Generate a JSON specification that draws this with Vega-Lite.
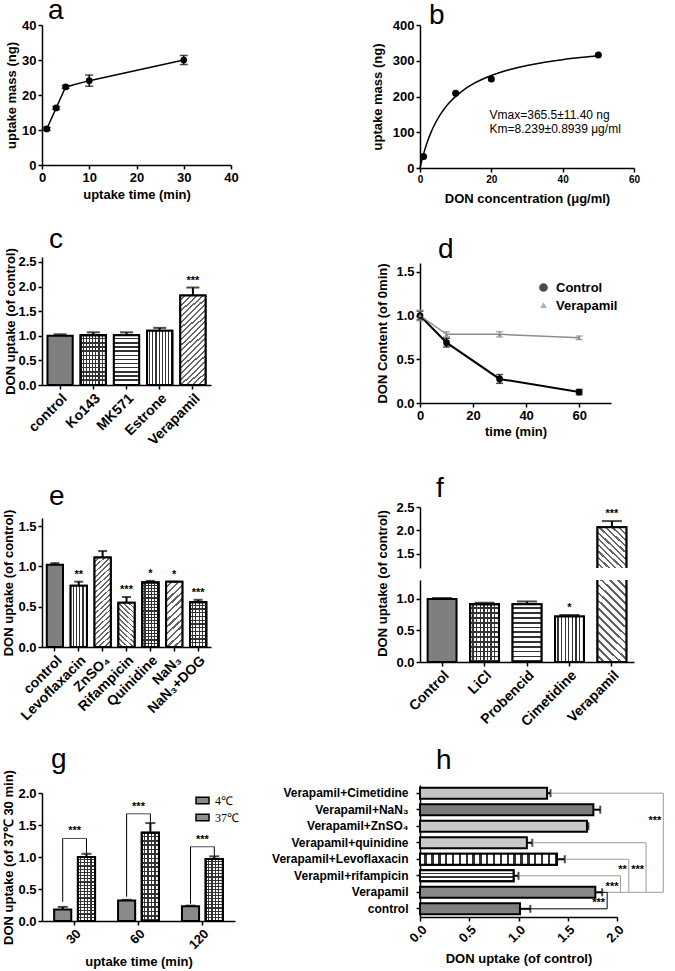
{
  "$schema": "https://vega.github.io/schema/vega-lite/v6.json",
  "padding": {"left": 2, "top": -3, "right": 0, "bottom": 0},
  "config": {
    "font": "Liberation Sans",
    "view": {"stroke": null},
    "mark": {"color": "black"},
    "rule": {"color": "black"},
    "tick": {"color": "black"},
    "text": {"color": "black"},
    "axis": {"grid": false, "domainColor": "black", "domainWidth": 1.5, "tickColor": "black", "tickWidth": 1.5, "tickSize": 4, "labelFont": "Liberation Sans", "labelFontSize": 13, "labelFontWeight": "bold", "labelColor": "black", "labelPadding": 2, "labelOverlap": false, "labelFlush": false, "labelBound": false, "titleFont": "Liberation Sans", "titleFontSize": 13, "titleFontWeight": "bold", "titleColor": "black"},
    "title": {"fontSize": 28, "fontWeight": "normal", "anchor": "start", "frame": "group", "font": "Liberation Sans", "baseline": "alphabetic", "color": "black"},
    "legend": {"padding": 0}
  },
  "bounds": "flush",
  "spacing": 378,
  "resolve": {"scale": {"fill": "independent", "color": "independent", "stroke": "independent", "shape": "independent", "size": "independent", "strokeWidth": "independent"}},
  "hconcat": [
    {
      "bounds": "flush", "spacing": 92,
      "resolve": {"scale": {"fill": "independent", "color": "independent", "stroke": "independent", "shape": "independent", "size": "independent", "strokeWidth": "independent"}},
      "vconcat": [
        {
          "width": 189, "height": 140,
          "title": {"text": "a", "dx": 6, "offset": -6},
          "data": {"values": [{"t": 1, "m": 10.3, "e": 0.4}, {"t": 3, "m": 16.3, "e": 0.4}, {"t": 5, "m": 22.3, "e": 0.4}, {"t": 10, "m": 24.1, "e": 1.6}, {"t": 30, "m": 30.0, "e": 1.3}]},
          "encoding": {"x": {"field": "t", "type": "quantitative", "scale": {"domain": [0, 40]}, "axis": {"values": [0, 10, 20, 30, 40], "tickCount": 10, "title": "uptake time (min)"}}},
          "layer": [
            {"mark": {"type": "line", "strokeWidth": 1.5, "color": "black"}, "encoding": {"y": {"field": "m", "type": "quantitative", "scale": {"domain": [0, 40]}, "axis": {"values": [0, 10, 20, 30, 40], "tickCount": 10, "title": "uptake mass (ng)", "titlePadding": 3}}}},
            {"mark": {"type": "errorbar", "ticks": {"size": 8, "thickness": 1.5, "color": "black"}, "thickness": 1.5, "color": "black"}, "encoding": {"y": {"field": "m", "type": "quantitative", "title": "uptake mass (ng)"}, "yError": {"field": "e"}}},
            {"mark": {"type": "point", "filled": true, "opacity": 1, "size": 45, "color": "black"}, "encoding": {"y": {"field": "m", "type": "quantitative", "title": "uptake mass (ng)"}}}
          ]
        },
        {
          "bounds": "flush", "spacing": 133,
          "resolve": {"scale": {"fill": "independent", "color": "independent", "stroke": "independent", "shape": "independent", "size": "independent", "strokeWidth": "independent"}},
          "vconcat": [
            {
              "width": 169, "height": 128,
              "title": {"text": "c", "dx": 7, "offset": -6},
              "data": {"values": [{"cat": "control", "v": 1.0, "hi": 1.03, "sig": ""}, {"cat": "Ko143", "v": 1.01, "hi": 1.07, "sig": ""}, {"cat": "MK571", "v": 1.01, "hi": 1.07, "sig": ""}, {"cat": "Estrone", "v": 1.1, "hi": 1.16, "sig": ""}, {"cat": "Verapamil", "v": 1.82, "hi": 1.98, "sig": "***"}]},
              "encoding": {"x": {"field": "cat", "type": "nominal", "scale": {"domain": ["control", "Ko143", "MK571", "Estrone", "Verapamil"], "paddingInner": 0.24, "paddingOuter": 0.165}, "axis": {"title": null, "labelAngle": -45, "labelFontSize": 14}}},
              "layer": [
                {"mark": {"type": "bar", "stroke": "black", "strokeWidth": 2}, "encoding": {"y": {"field": "v", "type": "quantitative", "scale": {"domain": [0, 2.5]}, "axis": {"values": [0, 0.5, 1, 1.5, 2, 2.5], "tickCount": 10, "format": ".1f", "title": "DON uptake (of control)", "titlePadding": 0}}, "fill": {"field": "cat", "type": "nominal", "scale": {"domain": ["control", "Ko143", "MK571", "Estrone", "Verapamil"], "range": ["#7f7f7f", "#8c8c8c", "#b0b0b0", "#bdbdbd", "#c4c4c4"]}, "legend": null}}},
                {"transform": [{"filter": "datum.cat === 'Ko143'"}], "mark": {"type": "bar", "stroke": "black", "strokeWidth": 2, "fill": {"gradient": "linear", "x1": 0, "y1": 0, "x2": 1, "y2": 0, "stops": [{"offset":0,"color":"#fff"},{"offset":0.081,"color":"#fff"},{"offset":0.081,"color":"#333"},{"offset":0.125,"color":"#333"},{"offset":0.125,"color":"#fff"},{"offset":0.206,"color":"#fff"},{"offset":0.206,"color":"#333"},{"offset":0.25,"color":"#333"},{"offset":0.25,"color":"#fff"},{"offset":0.331,"color":"#fff"},{"offset":0.331,"color":"#333"},{"offset":0.375,"color":"#333"},{"offset":0.375,"color":"#fff"},{"offset":0.456,"color":"#fff"},{"offset":0.456,"color":"#333"},{"offset":0.5,"color":"#333"},{"offset":0.5,"color":"#fff"},{"offset":0.581,"color":"#fff"},{"offset":0.581,"color":"#333"},{"offset":0.625,"color":"#333"},{"offset":0.625,"color":"#fff"},{"offset":0.706,"color":"#fff"},{"offset":0.706,"color":"#333"},{"offset":0.75,"color":"#333"},{"offset":0.75,"color":"#fff"},{"offset":0.831,"color":"#fff"},{"offset":0.831,"color":"#333"},{"offset":0.875,"color":"#333"},{"offset":0.875,"color":"#fff"},{"offset":0.956,"color":"#fff"},{"offset":0.956,"color":"#333"},{"offset":1,"color":"#333"}]}}, "encoding": {"y": {"field": "v", "type": "quantitative"}}},
                {"transform": [{"filter": "datum.cat === 'Ko143'"}], "mark": {"type": "bar", "stroke": "black", "strokeWidth": 2, "fill": {"gradient": "linear", "x1": 0, "y1": 0, "x2": 0, "y2": 1, "stops": [{"offset":0,"color":"rgba(0,0,0,0)"},{"offset":0.054,"color":"rgba(0,0,0,0)"},{"offset":0.054,"color":"#333"},{"offset":0.083,"color":"#333"},{"offset":0.083,"color":"rgba(0,0,0,0)"},{"offset":0.138,"color":"rgba(0,0,0,0)"},{"offset":0.138,"color":"#333"},{"offset":0.167,"color":"#333"},{"offset":0.167,"color":"rgba(0,0,0,0)"},{"offset":0.221,"color":"rgba(0,0,0,0)"},{"offset":0.221,"color":"#333"},{"offset":0.25,"color":"#333"},{"offset":0.25,"color":"rgba(0,0,0,0)"},{"offset":0.304,"color":"rgba(0,0,0,0)"},{"offset":0.304,"color":"#333"},{"offset":0.333,"color":"#333"},{"offset":0.333,"color":"rgba(0,0,0,0)"},{"offset":0.388,"color":"rgba(0,0,0,0)"},{"offset":0.388,"color":"#333"},{"offset":0.417,"color":"#333"},{"offset":0.417,"color":"rgba(0,0,0,0)"},{"offset":0.471,"color":"rgba(0,0,0,0)"},{"offset":0.471,"color":"#333"},{"offset":0.5,"color":"#333"},{"offset":0.5,"color":"rgba(0,0,0,0)"},{"offset":0.554,"color":"rgba(0,0,0,0)"},{"offset":0.554,"color":"#333"},{"offset":0.583,"color":"#333"},{"offset":0.583,"color":"rgba(0,0,0,0)"},{"offset":0.638,"color":"rgba(0,0,0,0)"},{"offset":0.638,"color":"#333"},{"offset":0.667,"color":"#333"},{"offset":0.667,"color":"rgba(0,0,0,0)"},{"offset":0.721,"color":"rgba(0,0,0,0)"},{"offset":0.721,"color":"#333"},{"offset":0.75,"color":"#333"},{"offset":0.75,"color":"rgba(0,0,0,0)"},{"offset":0.804,"color":"rgba(0,0,0,0)"},{"offset":0.804,"color":"#333"},{"offset":0.833,"color":"#333"},{"offset":0.833,"color":"rgba(0,0,0,0)"},{"offset":0.888,"color":"rgba(0,0,0,0)"},{"offset":0.888,"color":"#333"},{"offset":0.917,"color":"#333"},{"offset":0.917,"color":"rgba(0,0,0,0)"},{"offset":0.971,"color":"rgba(0,0,0,0)"},{"offset":0.971,"color":"#333"},{"offset":1,"color":"#333"}]}}, "encoding": {"y": {"field": "v", "type": "quantitative"}}},
                {"transform": [{"filter": "datum.cat === 'MK571'"}], "mark": {"type": "bar", "stroke": "black", "strokeWidth": 2, "fill": {"gradient": "linear", "x1": 0, "y1": 0, "x2": 0, "y2": 1, "stops": [{"offset":0,"color":"#fff"},{"offset":0.054,"color":"#fff"},{"offset":0.054,"color":"#333"},{"offset":0.083,"color":"#333"},{"offset":0.083,"color":"#fff"},{"offset":0.138,"color":"#fff"},{"offset":0.138,"color":"#333"},{"offset":0.167,"color":"#333"},{"offset":0.167,"color":"#fff"},{"offset":0.221,"color":"#fff"},{"offset":0.221,"color":"#333"},{"offset":0.25,"color":"#333"},{"offset":0.25,"color":"#fff"},{"offset":0.304,"color":"#fff"},{"offset":0.304,"color":"#333"},{"offset":0.333,"color":"#333"},{"offset":0.333,"color":"#fff"},{"offset":0.388,"color":"#fff"},{"offset":0.388,"color":"#333"},{"offset":0.417,"color":"#333"},{"offset":0.417,"color":"#fff"},{"offset":0.471,"color":"#fff"},{"offset":0.471,"color":"#333"},{"offset":0.5,"color":"#333"},{"offset":0.5,"color":"#fff"},{"offset":0.554,"color":"#fff"},{"offset":0.554,"color":"#333"},{"offset":0.583,"color":"#333"},{"offset":0.583,"color":"#fff"},{"offset":0.638,"color":"#fff"},{"offset":0.638,"color":"#333"},{"offset":0.667,"color":"#333"},{"offset":0.667,"color":"#fff"},{"offset":0.721,"color":"#fff"},{"offset":0.721,"color":"#333"},{"offset":0.75,"color":"#333"},{"offset":0.75,"color":"#fff"},{"offset":0.804,"color":"#fff"},{"offset":0.804,"color":"#333"},{"offset":0.833,"color":"#333"},{"offset":0.833,"color":"#fff"},{"offset":0.888,"color":"#fff"},{"offset":0.888,"color":"#333"},{"offset":0.917,"color":"#333"},{"offset":0.917,"color":"#fff"},{"offset":0.971,"color":"#fff"},{"offset":0.971,"color":"#333"},{"offset":1,"color":"#333"}]}}, "encoding": {"y": {"field": "v", "type": "quantitative"}}},
                {"transform": [{"filter": "datum.cat === 'Estrone'"}], "mark": {"type": "bar", "stroke": "black", "strokeWidth": 2, "fill": {"gradient": "linear", "x1": 0, "y1": 0, "x2": 1, "y2": 0, "stops": [{"offset":0,"color":"#fff"},{"offset":0.081,"color":"#fff"},{"offset":0.081,"color":"#333"},{"offset":0.125,"color":"#333"},{"offset":0.125,"color":"#fff"},{"offset":0.206,"color":"#fff"},{"offset":0.206,"color":"#333"},{"offset":0.25,"color":"#333"},{"offset":0.25,"color":"#fff"},{"offset":0.331,"color":"#fff"},{"offset":0.331,"color":"#333"},{"offset":0.375,"color":"#333"},{"offset":0.375,"color":"#fff"},{"offset":0.456,"color":"#fff"},{"offset":0.456,"color":"#333"},{"offset":0.5,"color":"#333"},{"offset":0.5,"color":"#fff"},{"offset":0.581,"color":"#fff"},{"offset":0.581,"color":"#333"},{"offset":0.625,"color":"#333"},{"offset":0.625,"color":"#fff"},{"offset":0.706,"color":"#fff"},{"offset":0.706,"color":"#333"},{"offset":0.75,"color":"#333"},{"offset":0.75,"color":"#fff"},{"offset":0.831,"color":"#fff"},{"offset":0.831,"color":"#333"},{"offset":0.875,"color":"#333"},{"offset":0.875,"color":"#fff"},{"offset":0.956,"color":"#fff"},{"offset":0.956,"color":"#333"},{"offset":1,"color":"#333"}]}}, "encoding": {"y": {"field": "v", "type": "quantitative"}}},
                {"transform": [{"filter": "datum.cat === 'Verapamil'"}], "mark": {"type": "bar", "stroke": "black", "strokeWidth": 2, "fill": {"gradient": "linear", "x1": 0, "y1": 0, "x2": 0.32, "y2": 1.184, "stops": [{"offset":0,"color":"#fff"},{"offset":0.0325,"color":"#fff"},{"offset":0.0325,"color":"#666"},{"offset":0.05,"color":"#666"},{"offset":0.05,"color":"#fff"},{"offset":0.0825,"color":"#fff"},{"offset":0.0825,"color":"#666"},{"offset":0.1,"color":"#666"},{"offset":0.1,"color":"#fff"},{"offset":0.1325,"color":"#fff"},{"offset":0.1325,"color":"#666"},{"offset":0.15,"color":"#666"},{"offset":0.15,"color":"#fff"},{"offset":0.1825,"color":"#fff"},{"offset":0.1825,"color":"#666"},{"offset":0.2,"color":"#666"},{"offset":0.2,"color":"#fff"},{"offset":0.2325,"color":"#fff"},{"offset":0.2325,"color":"#666"},{"offset":0.25,"color":"#666"},{"offset":0.25,"color":"#fff"},{"offset":0.2825,"color":"#fff"},{"offset":0.2825,"color":"#666"},{"offset":0.3,"color":"#666"},{"offset":0.3,"color":"#fff"},{"offset":0.3325,"color":"#fff"},{"offset":0.3325,"color":"#666"},{"offset":0.35,"color":"#666"},{"offset":0.35,"color":"#fff"},{"offset":0.3825,"color":"#fff"},{"offset":0.3825,"color":"#666"},{"offset":0.4,"color":"#666"},{"offset":0.4,"color":"#fff"},{"offset":0.4325,"color":"#fff"},{"offset":0.4325,"color":"#666"},{"offset":0.45,"color":"#666"},{"offset":0.45,"color":"#fff"},{"offset":0.4825,"color":"#fff"},{"offset":0.4825,"color":"#666"},{"offset":0.5,"color":"#666"},{"offset":0.5,"color":"#fff"},{"offset":0.5325,"color":"#fff"},{"offset":0.5325,"color":"#666"},{"offset":0.55,"color":"#666"},{"offset":0.55,"color":"#fff"},{"offset":0.5825,"color":"#fff"},{"offset":0.5825,"color":"#666"},{"offset":0.6,"color":"#666"},{"offset":0.6,"color":"#fff"},{"offset":0.6325,"color":"#fff"},{"offset":0.6325,"color":"#666"},{"offset":0.65,"color":"#666"},{"offset":0.65,"color":"#fff"},{"offset":0.6825,"color":"#fff"},{"offset":0.6825,"color":"#666"},{"offset":0.7,"color":"#666"},{"offset":0.7,"color":"#fff"},{"offset":0.7325,"color":"#fff"},{"offset":0.7325,"color":"#666"},{"offset":0.75,"color":"#666"},{"offset":0.75,"color":"#fff"},{"offset":0.7825,"color":"#fff"},{"offset":0.7825,"color":"#666"},{"offset":0.8,"color":"#666"},{"offset":0.8,"color":"#fff"},{"offset":0.8325,"color":"#fff"},{"offset":0.8325,"color":"#666"},{"offset":0.85,"color":"#666"},{"offset":0.85,"color":"#fff"},{"offset":0.8825,"color":"#fff"},{"offset":0.8825,"color":"#666"},{"offset":0.9,"color":"#666"},{"offset":0.9,"color":"#fff"},{"offset":0.9325,"color":"#fff"},{"offset":0.9325,"color":"#666"},{"offset":0.95,"color":"#666"},{"offset":0.95,"color":"#fff"},{"offset":0.9825,"color":"#fff"},{"offset":0.9825,"color":"#666"},{"offset":1,"color":"#666"}]}}, "encoding": {"y": {"field": "v", "type": "quantitative"}}},
                {"mark": {"type": "rule", "strokeWidth": 2}, "encoding": {"y": {"field": "v", "type": "quantitative"}, "y2": {"field": "hi"}}},
                {"mark": {"type": "tick", "orient": "horizontal", "size": 13, "thickness": 2}, "encoding": {"y": {"field": "hi", "type": "quantitative"}}},
                {"mark": {"type": "text", "dy": -7, "fontSize": 11, "fontWeight": "bold"}, "encoding": {"y": {"field": "hi", "type": "quantitative"}, "text": {"field": "sig"}}}
              ]
            },
            {
              "bounds": "flush", "spacing": 146,
              "resolve": {"scale": {"fill": "independent", "color": "independent", "stroke": "independent", "shape": "independent", "size": "independent", "strokeWidth": "independent"}},
              "vconcat": [
                {
                  "width": 169, "height": 129,
                  "title": {"text": "e", "dx": 7, "offset": -2},
                  "data": {"values": [{"cat": "control", "v": 1.02, "hi": 1.04, "sig": ""}, {"cat": "Levoflaxacin", "v": 0.76, "hi": 0.81, "sig": "**"}, {"cat": "ZnSO₄", "v": 1.11, "hi": 1.19, "sig": ""}, {"cat": "Rifampicin", "v": 0.55, "hi": 0.62, "sig": "***"}, {"cat": "Quinidine", "v": 0.8, "hi": 0.82, "sig": "*"}, {"cat": "NaN₃", "v": 0.81, "hi": 0.81, "sig": "*"}, {"cat": "NaN₃+DOG", "v": 0.555, "hi": 0.585, "sig": "***"}]},
                  "encoding": {"x": {"field": "cat", "type": "nominal", "scale": {"domain": ["control", "Levoflaxacin", "ZnSO₄", "Rifampicin", "Quinidine", "NaN₃", "NaN₃+DOG"], "paddingInner": 0.32, "paddingOuter": 0.2}, "axis": {"title": null, "labelAngle": -45, "labelFontSize": 14}}},
                  "layer": [
                    {"mark": {"type": "bar", "stroke": "black", "strokeWidth": 2}, "encoding": {"y": {"field": "v", "type": "quantitative", "scale": {"domain": [0, 1.5]}, "axis": {"values": [0, 0.5, 1, 1.5], "tickCount": 10, "format": ".1f", "title": "DON uptake (of control)", "titlePadding": 2}}, "fill": {"field": "cat", "type": "nominal", "scale": {"domain": ["control", "Levoflaxacin", "ZnSO₄", "Rifampicin", "Quinidine", "NaN₃", "NaN₃+DOG"], "range": ["#7f7f7f", "#b5b5b5", "#c2c2c2", "#c8c8c8", "#8a8a8a", "#bdbdbd", "#8c8c8c"]}, "legend": null}}},
                    {"transform": [{"filter": "datum.cat === 'Levoflaxacin' || datum.cat === 'Quinidine' || datum.cat === 'NaN₃+DOG'"}], "mark": {"type": "bar", "stroke": "black", "strokeWidth": 2, "fill": {"gradient": "linear", "x1": 0, "y1": 0, "x2": 1, "y2": 0, "stops": [{"offset":0,"color":"#fff"},{"offset":0.13,"color":"#fff"},{"offset":0.13,"color":"#333"},{"offset":0.2,"color":"#333"},{"offset":0.2,"color":"#fff"},{"offset":0.33,"color":"#fff"},{"offset":0.33,"color":"#333"},{"offset":0.4,"color":"#333"},{"offset":0.4,"color":"#fff"},{"offset":0.53,"color":"#fff"},{"offset":0.53,"color":"#333"},{"offset":0.6,"color":"#333"},{"offset":0.6,"color":"#fff"},{"offset":0.73,"color":"#fff"},{"offset":0.73,"color":"#333"},{"offset":0.8,"color":"#333"},{"offset":0.8,"color":"#fff"},{"offset":0.93,"color":"#fff"},{"offset":0.93,"color":"#333"},{"offset":1,"color":"#333"}]}}, "encoding": {"y": {"field": "v", "type": "quantitative"}}},
                    {"transform": [{"filter": "datum.cat === 'NaN₃+DOG'"}], "mark": {"type": "bar", "stroke": "black", "strokeWidth": 2, "fill": {"gradient": "linear", "x1": 0, "y1": 0, "x2": 0, "y2": 1, "stops": [{"offset":0,"color":"rgba(0,0,0,0)"},{"offset":0.054,"color":"rgba(0,0,0,0)"},{"offset":0.054,"color":"#333"},{"offset":0.083,"color":"#333"},{"offset":0.083,"color":"rgba(0,0,0,0)"},{"offset":0.138,"color":"rgba(0,0,0,0)"},{"offset":0.138,"color":"#333"},{"offset":0.167,"color":"#333"},{"offset":0.167,"color":"rgba(0,0,0,0)"},{"offset":0.221,"color":"rgba(0,0,0,0)"},{"offset":0.221,"color":"#333"},{"offset":0.25,"color":"#333"},{"offset":0.25,"color":"rgba(0,0,0,0)"},{"offset":0.304,"color":"rgba(0,0,0,0)"},{"offset":0.304,"color":"#333"},{"offset":0.333,"color":"#333"},{"offset":0.333,"color":"rgba(0,0,0,0)"},{"offset":0.388,"color":"rgba(0,0,0,0)"},{"offset":0.388,"color":"#333"},{"offset":0.417,"color":"#333"},{"offset":0.417,"color":"rgba(0,0,0,0)"},{"offset":0.471,"color":"rgba(0,0,0,0)"},{"offset":0.471,"color":"#333"},{"offset":0.5,"color":"#333"},{"offset":0.5,"color":"rgba(0,0,0,0)"},{"offset":0.554,"color":"rgba(0,0,0,0)"},{"offset":0.554,"color":"#333"},{"offset":0.583,"color":"#333"},{"offset":0.583,"color":"rgba(0,0,0,0)"},{"offset":0.638,"color":"rgba(0,0,0,0)"},{"offset":0.638,"color":"#333"},{"offset":0.667,"color":"#333"},{"offset":0.667,"color":"rgba(0,0,0,0)"},{"offset":0.721,"color":"rgba(0,0,0,0)"},{"offset":0.721,"color":"#333"},{"offset":0.75,"color":"#333"},{"offset":0.75,"color":"rgba(0,0,0,0)"},{"offset":0.804,"color":"rgba(0,0,0,0)"},{"offset":0.804,"color":"#333"},{"offset":0.833,"color":"#333"},{"offset":0.833,"color":"rgba(0,0,0,0)"},{"offset":0.888,"color":"rgba(0,0,0,0)"},{"offset":0.888,"color":"#333"},{"offset":0.917,"color":"#333"},{"offset":0.917,"color":"rgba(0,0,0,0)"},{"offset":0.971,"color":"rgba(0,0,0,0)"},{"offset":0.971,"color":"#333"},{"offset":1,"color":"#333"}]}}, "encoding": {"y": {"field": "v", "type": "quantitative"}}},
                    {"transform": [{"filter": "datum.cat === 'Quinidine'"}], "mark": {"type": "bar", "stroke": "black", "strokeWidth": 2, "fill": {"gradient": "linear", "x1": 0, "y1": 0, "x2": 0, "y2": 1, "stops": [{"offset":0,"color":"rgba(0,0,0,0)"},{"offset":0.0325,"color":"rgba(0,0,0,0)"},{"offset":0.0325,"color":"#333"},{"offset":0.05,"color":"#333"},{"offset":0.05,"color":"rgba(0,0,0,0)"},{"offset":0.0825,"color":"rgba(0,0,0,0)"},{"offset":0.0825,"color":"#333"},{"offset":0.1,"color":"#333"},{"offset":0.1,"color":"rgba(0,0,0,0)"},{"offset":0.1325,"color":"rgba(0,0,0,0)"},{"offset":0.1325,"color":"#333"},{"offset":0.15,"color":"#333"},{"offset":0.15,"color":"rgba(0,0,0,0)"},{"offset":0.1825,"color":"rgba(0,0,0,0)"},{"offset":0.1825,"color":"#333"},{"offset":0.2,"color":"#333"},{"offset":0.2,"color":"rgba(0,0,0,0)"},{"offset":0.2325,"color":"rgba(0,0,0,0)"},{"offset":0.2325,"color":"#333"},{"offset":0.25,"color":"#333"},{"offset":0.25,"color":"rgba(0,0,0,0)"},{"offset":0.2825,"color":"rgba(0,0,0,0)"},{"offset":0.2825,"color":"#333"},{"offset":0.3,"color":"#333"},{"offset":0.3,"color":"rgba(0,0,0,0)"},{"offset":0.3325,"color":"rgba(0,0,0,0)"},{"offset":0.3325,"color":"#333"},{"offset":0.35,"color":"#333"},{"offset":0.35,"color":"rgba(0,0,0,0)"},{"offset":0.3825,"color":"rgba(0,0,0,0)"},{"offset":0.3825,"color":"#333"},{"offset":0.4,"color":"#333"},{"offset":0.4,"color":"rgba(0,0,0,0)"},{"offset":0.4325,"color":"rgba(0,0,0,0)"},{"offset":0.4325,"color":"#333"},{"offset":0.45,"color":"#333"},{"offset":0.45,"color":"rgba(0,0,0,0)"},{"offset":0.4825,"color":"rgba(0,0,0,0)"},{"offset":0.4825,"color":"#333"},{"offset":0.5,"color":"#333"},{"offset":0.5,"color":"rgba(0,0,0,0)"},{"offset":0.5325,"color":"rgba(0,0,0,0)"},{"offset":0.5325,"color":"#333"},{"offset":0.55,"color":"#333"},{"offset":0.55,"color":"rgba(0,0,0,0)"},{"offset":0.5825,"color":"rgba(0,0,0,0)"},{"offset":0.5825,"color":"#333"},{"offset":0.6,"color":"#333"},{"offset":0.6,"color":"rgba(0,0,0,0)"},{"offset":0.6325,"color":"rgba(0,0,0,0)"},{"offset":0.6325,"color":"#333"},{"offset":0.65,"color":"#333"},{"offset":0.65,"color":"rgba(0,0,0,0)"},{"offset":0.6825,"color":"rgba(0,0,0,0)"},{"offset":0.6825,"color":"#333"},{"offset":0.7,"color":"#333"},{"offset":0.7,"color":"rgba(0,0,0,0)"},{"offset":0.7325,"color":"rgba(0,0,0,0)"},{"offset":0.7325,"color":"#333"},{"offset":0.75,"color":"#333"},{"offset":0.75,"color":"rgba(0,0,0,0)"},{"offset":0.7825,"color":"rgba(0,0,0,0)"},{"offset":0.7825,"color":"#333"},{"offset":0.8,"color":"#333"},{"offset":0.8,"color":"rgba(0,0,0,0)"},{"offset":0.8325,"color":"rgba(0,0,0,0)"},{"offset":0.8325,"color":"#333"},{"offset":0.85,"color":"#333"},{"offset":0.85,"color":"rgba(0,0,0,0)"},{"offset":0.8825,"color":"rgba(0,0,0,0)"},{"offset":0.8825,"color":"#333"},{"offset":0.9,"color":"#333"},{"offset":0.9,"color":"rgba(0,0,0,0)"},{"offset":0.9325,"color":"rgba(0,0,0,0)"},{"offset":0.9325,"color":"#333"},{"offset":0.95,"color":"#333"},{"offset":0.95,"color":"rgba(0,0,0,0)"},{"offset":0.9825,"color":"rgba(0,0,0,0)"},{"offset":0.9825,"color":"#333"},{"offset":1,"color":"#333"}]}}, "encoding": {"y": {"field": "v", "type": "quantitative"}}},
                    {"transform": [{"filter": "datum.cat === 'ZnSO₄'"}], "mark": {"type": "bar", "stroke": "black", "strokeWidth": 2, "fill": {"gradient": "linear", "x1": 0, "y1": 0, "x2": 0.194, "y2": 1.137, "stops": [{"offset":0,"color":"#fff"},{"offset":0.0325,"color":"#fff"},{"offset":0.0325,"color":"#666"},{"offset":0.05,"color":"#666"},{"offset":0.05,"color":"#fff"},{"offset":0.0825,"color":"#fff"},{"offset":0.0825,"color":"#666"},{"offset":0.1,"color":"#666"},{"offset":0.1,"color":"#fff"},{"offset":0.1325,"color":"#fff"},{"offset":0.1325,"color":"#666"},{"offset":0.15,"color":"#666"},{"offset":0.15,"color":"#fff"},{"offset":0.1825,"color":"#fff"},{"offset":0.1825,"color":"#666"},{"offset":0.2,"color":"#666"},{"offset":0.2,"color":"#fff"},{"offset":0.2325,"color":"#fff"},{"offset":0.2325,"color":"#666"},{"offset":0.25,"color":"#666"},{"offset":0.25,"color":"#fff"},{"offset":0.2825,"color":"#fff"},{"offset":0.2825,"color":"#666"},{"offset":0.3,"color":"#666"},{"offset":0.3,"color":"#fff"},{"offset":0.3325,"color":"#fff"},{"offset":0.3325,"color":"#666"},{"offset":0.35,"color":"#666"},{"offset":0.35,"color":"#fff"},{"offset":0.3825,"color":"#fff"},{"offset":0.3825,"color":"#666"},{"offset":0.4,"color":"#666"},{"offset":0.4,"color":"#fff"},{"offset":0.4325,"color":"#fff"},{"offset":0.4325,"color":"#666"},{"offset":0.45,"color":"#666"},{"offset":0.45,"color":"#fff"},{"offset":0.4825,"color":"#fff"},{"offset":0.4825,"color":"#666"},{"offset":0.5,"color":"#666"},{"offset":0.5,"color":"#fff"},{"offset":0.5325,"color":"#fff"},{"offset":0.5325,"color":"#666"},{"offset":0.55,"color":"#666"},{"offset":0.55,"color":"#fff"},{"offset":0.5825,"color":"#fff"},{"offset":0.5825,"color":"#666"},{"offset":0.6,"color":"#666"},{"offset":0.6,"color":"#fff"},{"offset":0.6325,"color":"#fff"},{"offset":0.6325,"color":"#666"},{"offset":0.65,"color":"#666"},{"offset":0.65,"color":"#fff"},{"offset":0.6825,"color":"#fff"},{"offset":0.6825,"color":"#666"},{"offset":0.7,"color":"#666"},{"offset":0.7,"color":"#fff"},{"offset":0.7325,"color":"#fff"},{"offset":0.7325,"color":"#666"},{"offset":0.75,"color":"#666"},{"offset":0.75,"color":"#fff"},{"offset":0.7825,"color":"#fff"},{"offset":0.7825,"color":"#666"},{"offset":0.8,"color":"#666"},{"offset":0.8,"color":"#fff"},{"offset":0.8325,"color":"#fff"},{"offset":0.8325,"color":"#666"},{"offset":0.85,"color":"#666"},{"offset":0.85,"color":"#fff"},{"offset":0.8825,"color":"#fff"},{"offset":0.8825,"color":"#666"},{"offset":0.9,"color":"#666"},{"offset":0.9,"color":"#fff"},{"offset":0.9325,"color":"#fff"},{"offset":0.9325,"color":"#666"},{"offset":0.95,"color":"#666"},{"offset":0.95,"color":"#fff"},{"offset":0.9825,"color":"#fff"},{"offset":0.9825,"color":"#666"},{"offset":1,"color":"#666"}]}}, "encoding": {"y": {"field": "v", "type": "quantitative"}}},
                    {"transform": [{"filter": "datum.cat === 'Rifampicin'"}], "mark": {"type": "bar", "stroke": "black", "strokeWidth": 2, "fill": {"gradient": "linear", "x1": 0, "y1": 1, "x2": 0.414, "y2": -0.202, "stops": [{"offset":0,"color":"#fff"},{"offset":0.054,"color":"#fff"},{"offset":0.054,"color":"#666"},{"offset":0.083,"color":"#666"},{"offset":0.083,"color":"#fff"},{"offset":0.138,"color":"#fff"},{"offset":0.138,"color":"#666"},{"offset":0.167,"color":"#666"},{"offset":0.167,"color":"#fff"},{"offset":0.221,"color":"#fff"},{"offset":0.221,"color":"#666"},{"offset":0.25,"color":"#666"},{"offset":0.25,"color":"#fff"},{"offset":0.304,"color":"#fff"},{"offset":0.304,"color":"#666"},{"offset":0.333,"color":"#666"},{"offset":0.333,"color":"#fff"},{"offset":0.388,"color":"#fff"},{"offset":0.388,"color":"#666"},{"offset":0.417,"color":"#666"},{"offset":0.417,"color":"#fff"},{"offset":0.471,"color":"#fff"},{"offset":0.471,"color":"#666"},{"offset":0.5,"color":"#666"},{"offset":0.5,"color":"#fff"},{"offset":0.554,"color":"#fff"},{"offset":0.554,"color":"#666"},{"offset":0.583,"color":"#666"},{"offset":0.583,"color":"#fff"},{"offset":0.638,"color":"#fff"},{"offset":0.638,"color":"#666"},{"offset":0.667,"color":"#666"},{"offset":0.667,"color":"#fff"},{"offset":0.721,"color":"#fff"},{"offset":0.721,"color":"#666"},{"offset":0.75,"color":"#666"},{"offset":0.75,"color":"#fff"},{"offset":0.804,"color":"#fff"},{"offset":0.804,"color":"#666"},{"offset":0.833,"color":"#666"},{"offset":0.833,"color":"#fff"},{"offset":0.888,"color":"#fff"},{"offset":0.888,"color":"#666"},{"offset":0.917,"color":"#666"},{"offset":0.917,"color":"#fff"},{"offset":0.971,"color":"#fff"},{"offset":0.971,"color":"#666"},{"offset":1,"color":"#666"}]}}, "encoding": {"y": {"field": "v", "type": "quantitative"}}},
                    {"transform": [{"filter": "datum.cat === 'NaN₃'"}], "mark": {"type": "bar", "stroke": "black", "strokeWidth": 2, "fill": {"gradient": "linear", "x1": 0, "y1": 0, "x2": 0.274, "y2": 1.17, "stops": [{"offset":0,"color":"#fff"},{"offset":0.054,"color":"#fff"},{"offset":0.054,"color":"#666"},{"offset":0.083,"color":"#666"},{"offset":0.083,"color":"#fff"},{"offset":0.138,"color":"#fff"},{"offset":0.138,"color":"#666"},{"offset":0.167,"color":"#666"},{"offset":0.167,"color":"#fff"},{"offset":0.221,"color":"#fff"},{"offset":0.221,"color":"#666"},{"offset":0.25,"color":"#666"},{"offset":0.25,"color":"#fff"},{"offset":0.304,"color":"#fff"},{"offset":0.304,"color":"#666"},{"offset":0.333,"color":"#666"},{"offset":0.333,"color":"#fff"},{"offset":0.388,"color":"#fff"},{"offset":0.388,"color":"#666"},{"offset":0.417,"color":"#666"},{"offset":0.417,"color":"#fff"},{"offset":0.471,"color":"#fff"},{"offset":0.471,"color":"#666"},{"offset":0.5,"color":"#666"},{"offset":0.5,"color":"#fff"},{"offset":0.554,"color":"#fff"},{"offset":0.554,"color":"#666"},{"offset":0.583,"color":"#666"},{"offset":0.583,"color":"#fff"},{"offset":0.638,"color":"#fff"},{"offset":0.638,"color":"#666"},{"offset":0.667,"color":"#666"},{"offset":0.667,"color":"#fff"},{"offset":0.721,"color":"#fff"},{"offset":0.721,"color":"#666"},{"offset":0.75,"color":"#666"},{"offset":0.75,"color":"#fff"},{"offset":0.804,"color":"#fff"},{"offset":0.804,"color":"#666"},{"offset":0.833,"color":"#666"},{"offset":0.833,"color":"#fff"},{"offset":0.888,"color":"#fff"},{"offset":0.888,"color":"#666"},{"offset":0.917,"color":"#666"},{"offset":0.917,"color":"#fff"},{"offset":0.971,"color":"#fff"},{"offset":0.971,"color":"#666"},{"offset":1,"color":"#666"}]}}, "encoding": {"y": {"field": "v", "type": "quantitative"}}},
                    {"mark": {"type": "rule", "strokeWidth": 2}, "encoding": {"y": {"field": "v", "type": "quantitative"}, "y2": {"field": "hi"}}},
                    {"mark": {"type": "tick", "orient": "horizontal", "size": 9, "thickness": 2}, "encoding": {"y": {"field": "hi", "type": "quantitative"}}},
                    {"mark": {"type": "text", "dy": -7, "fontSize": 11, "fontWeight": "bold"}, "encoding": {"y": {"field": "hi", "type": "quantitative"}, "text": {"field": "sig"}}}
                  ]
                },
                {
                  "width": 193, "height": 128,
                  "title": {"text": "g", "dx": 9, "offset": -4},
                  "encoding": {"x": {"field": "time", "type": "nominal", "scale": {"domain": ["30", "60", "120"], "paddingInner": 0.36, "paddingOuter": 0.19}, "axis": {"labelAngle": -45, "title": "uptake time (min)"}}},
                  "layer": [
                    {"data": {"name": "gbars"}, "mark": {"type": "bar", "stroke": "black", "strokeWidth": 2}, "encoding": {"xOffset": {"field": "temp", "type": "nominal", "scale": {"domain": ["4℃", "37℃"], "paddingInner": 0.28, "paddingOuter": 0}}, "y": {"field": "v", "type": "quantitative", "scale": {"domain": [0, 2]}, "axis": {"values": [0, 0.5, 1, 1.5, 2], "tickCount": 10, "format": ".1f", "title": "DON uptake (of 37℃ 30 min)", "titlePadding": 2}}, "fill": {"field": "temp", "type": "nominal", "scale": {"domain": ["4℃", "37℃"], "range": ["#8a8a8a", "#8f8f8f"]}, "legend": {"orient": "none", "legendX": 153, "legendY": 0, "title": null, "symbolType": "M-1,-0.5H1V0.5H-1Z", "symbolSize": 169, "symbolStrokeColor": "black", "symbolStrokeWidth": 1.5, "labelFont": "Liberation Serif", "labelFontSize": 12, "labelFontWeight": "normal", "rowPadding": 3, "labelOffset": 5}}}},
                    {"data": {"name": "gbars"}, "transform": [{"filter": "datum.temp === '37℃'"}], "mark": {"type": "bar", "stroke": "black", "strokeWidth": 2, "fill": {"gradient": "linear", "x1": 0, "y1": 0, "x2": 1, "y2": 0, "stops": [{"offset":0,"color":"#fff"},{"offset":0.13,"color":"#fff"},{"offset":0.13,"color":"#333"},{"offset":0.2,"color":"#333"},{"offset":0.2,"color":"#fff"},{"offset":0.33,"color":"#fff"},{"offset":0.33,"color":"#333"},{"offset":0.4,"color":"#333"},{"offset":0.4,"color":"#fff"},{"offset":0.53,"color":"#fff"},{"offset":0.53,"color":"#333"},{"offset":0.6,"color":"#333"},{"offset":0.6,"color":"#fff"},{"offset":0.73,"color":"#fff"},{"offset":0.73,"color":"#333"},{"offset":0.8,"color":"#333"},{"offset":0.8,"color":"#fff"},{"offset":0.93,"color":"#fff"},{"offset":0.93,"color":"#333"},{"offset":1,"color":"#333"}]}}, "encoding": {"xOffset": {"field": "temp", "type": "nominal"}, "y": {"field": "v", "type": "quantitative"}}},
                    {"data": {"name": "gbars"}, "transform": [{"filter": "datum.temp === '37℃'"}], "mark": {"type": "bar", "stroke": "black", "strokeWidth": 2, "fill": {"gradient": "linear", "x1": 0, "y1": 0, "x2": 0, "y2": 1, "stops": [{"offset":0,"color":"rgba(0,0,0,0)"},{"offset":0.0325,"color":"rgba(0,0,0,0)"},{"offset":0.0325,"color":"#333"},{"offset":0.05,"color":"#333"},{"offset":0.05,"color":"rgba(0,0,0,0)"},{"offset":0.0825,"color":"rgba(0,0,0,0)"},{"offset":0.0825,"color":"#333"},{"offset":0.1,"color":"#333"},{"offset":0.1,"color":"rgba(0,0,0,0)"},{"offset":0.1325,"color":"rgba(0,0,0,0)"},{"offset":0.1325,"color":"#333"},{"offset":0.15,"color":"#333"},{"offset":0.15,"color":"rgba(0,0,0,0)"},{"offset":0.1825,"color":"rgba(0,0,0,0)"},{"offset":0.1825,"color":"#333"},{"offset":0.2,"color":"#333"},{"offset":0.2,"color":"rgba(0,0,0,0)"},{"offset":0.2325,"color":"rgba(0,0,0,0)"},{"offset":0.2325,"color":"#333"},{"offset":0.25,"color":"#333"},{"offset":0.25,"color":"rgba(0,0,0,0)"},{"offset":0.2825,"color":"rgba(0,0,0,0)"},{"offset":0.2825,"color":"#333"},{"offset":0.3,"color":"#333"},{"offset":0.3,"color":"rgba(0,0,0,0)"},{"offset":0.3325,"color":"rgba(0,0,0,0)"},{"offset":0.3325,"color":"#333"},{"offset":0.35,"color":"#333"},{"offset":0.35,"color":"rgba(0,0,0,0)"},{"offset":0.3825,"color":"rgba(0,0,0,0)"},{"offset":0.3825,"color":"#333"},{"offset":0.4,"color":"#333"},{"offset":0.4,"color":"rgba(0,0,0,0)"},{"offset":0.4325,"color":"rgba(0,0,0,0)"},{"offset":0.4325,"color":"#333"},{"offset":0.45,"color":"#333"},{"offset":0.45,"color":"rgba(0,0,0,0)"},{"offset":0.4825,"color":"rgba(0,0,0,0)"},{"offset":0.4825,"color":"#333"},{"offset":0.5,"color":"#333"},{"offset":0.5,"color":"rgba(0,0,0,0)"},{"offset":0.5325,"color":"rgba(0,0,0,0)"},{"offset":0.5325,"color":"#333"},{"offset":0.55,"color":"#333"},{"offset":0.55,"color":"rgba(0,0,0,0)"},{"offset":0.5825,"color":"rgba(0,0,0,0)"},{"offset":0.5825,"color":"#333"},{"offset":0.6,"color":"#333"},{"offset":0.6,"color":"rgba(0,0,0,0)"},{"offset":0.6325,"color":"rgba(0,0,0,0)"},{"offset":0.6325,"color":"#333"},{"offset":0.65,"color":"#333"},{"offset":0.65,"color":"rgba(0,0,0,0)"},{"offset":0.6825,"color":"rgba(0,0,0,0)"},{"offset":0.6825,"color":"#333"},{"offset":0.7,"color":"#333"},{"offset":0.7,"color":"rgba(0,0,0,0)"},{"offset":0.7325,"color":"rgba(0,0,0,0)"},{"offset":0.7325,"color":"#333"},{"offset":0.75,"color":"#333"},{"offset":0.75,"color":"rgba(0,0,0,0)"},{"offset":0.7825,"color":"rgba(0,0,0,0)"},{"offset":0.7825,"color":"#333"},{"offset":0.8,"color":"#333"},{"offset":0.8,"color":"rgba(0,0,0,0)"},{"offset":0.8325,"color":"rgba(0,0,0,0)"},{"offset":0.8325,"color":"#333"},{"offset":0.85,"color":"#333"},{"offset":0.85,"color":"rgba(0,0,0,0)"},{"offset":0.8825,"color":"rgba(0,0,0,0)"},{"offset":0.8825,"color":"#333"},{"offset":0.9,"color":"#333"},{"offset":0.9,"color":"rgba(0,0,0,0)"},{"offset":0.9325,"color":"rgba(0,0,0,0)"},{"offset":0.9325,"color":"#333"},{"offset":0.95,"color":"#333"},{"offset":0.95,"color":"rgba(0,0,0,0)"},{"offset":0.9825,"color":"rgba(0,0,0,0)"},{"offset":0.9825,"color":"#333"},{"offset":1,"color":"#333"}]}}, "encoding": {"xOffset": {"field": "temp", "type": "nominal"}, "y": {"field": "v", "type": "quantitative"}}},
                    {"data": {"name": "gbars"}, "mark": {"type": "rule", "strokeWidth": 2}, "encoding": {"xOffset": {"field": "temp", "type": "nominal"}, "y": {"field": "v", "type": "quantitative"}, "y2": {"field": "hi"}}},
                    {"data": {"name": "gbars"}, "mark": {"type": "tick", "orient": "horizontal", "size": 10, "thickness": 2}, "encoding": {"xOffset": {"field": "temp", "type": "nominal"}, "y": {"field": "hi", "type": "quantitative"}}},
                    {"data": {"name": "glegs"}, "mark": {"type": "rule", "strokeWidth": 1}, "encoding": {"xOffset": {"field": "temp", "type": "nominal"}, "y": {"field": "lo", "type": "quantitative"}, "y2": {"field": "top"}}},
                    {"data": {"name": "gstars"}, "mark": {"type": "tick", "orient": "horizontal", "size": 24, "thickness": 1}, "encoding": {"y": {"field": "top", "type": "quantitative"}}},
                    {"data": {"name": "gstars"}, "mark": {"type": "text", "dy": -7, "fontSize": 11, "fontWeight": "bold"}, "encoding": {"y": {"field": "top", "type": "quantitative"}, "text": {"field": "sig"}}}
                  ]
                }
              ]
            }
          ]
        }
      ]
    },
    {
      "bounds": "flush", "spacing": 95,
      "resolve": {"scale": {"fill": "independent", "color": "independent", "stroke": "independent", "shape": "independent", "size": "independent", "strokeWidth": "independent"}},
      "vconcat": [
        {
          "width": 214, "height": 143,
          "title": {"text": "b", "dx": 9, "offset": -11},
          "layer": [
            {"data": {"values": [{"c": 0, "u": 0}, {"c": 0.5, "u": 20.9}, {"c": 1, "u": 39.6}, {"c": 2, "u": 71.4}, {"c": 3, "u": 97.6}, {"c": 4, "u": 119.5}, {"c": 5, "u": 138.0}, {"c": 6, "u": 154.0}, {"c": 7, "u": 167.9}, {"c": 8, "u": 180.1}, {"c": 10, "u": 200.4}, {"c": 12, "u": 216.7}, {"c": 15, "u": 235.9}, {"c": 20, "u": 258.9}, {"c": 25, "u": 274.9}, {"c": 30, "u": 286.8}, {"c": 35, "u": 295.9}, {"c": 40, "u": 303.1}, {"c": 45, "u": 308.9}, {"c": 50, "u": 313.8}]},
             "mark": {"type": "line", "interpolate": "monotone", "strokeWidth": 1.5, "color": "black"},
             "encoding": {"x": {"field": "c", "type": "quantitative", "scale": {"domain": [0, 60]}, "axis": {"values": [0, 20, 40, 60], "tickCount": 10, "labelFontSize": 10, "title": "DON concentration (μg/ml)", "titlePadding": 8}}, "y": {"field": "u", "type": "quantitative", "scale": {"domain": [0, 400]}, "axis": {"values": [0, 100, 200, 300, 400], "tickCount": 10, "title": "uptake mass (ng)", "titlePadding": 8}}}},
            {"data": {"values": [{"c": 1, "u": 32}, {"c": 10, "u": 209}, {"c": 20, "u": 249}, {"c": 50, "u": 316}]},
             "mark": {"type": "point", "filled": true, "size": 50, "opacity": 1, "color": "black"},
             "encoding": {"x": {"field": "c", "type": "quantitative"}, "y": {"field": "u", "type": "quantitative"}}},
            {"data": {"values": [{}]},
             "mark": {"type": "text", "align": "left", "baseline": "middle", "fontSize": 12, "lineHeight": 14, "fontWeight": "normal", "text": ["Vmax=365.5±11.40 ng", "Km=8.239±0.8939 μg/ml"]},
             "encoding": {"x": {"datum": 19.5}, "y": {"datum": 147}}}
          ]
        },
        {
          "bounds": "flush", "spacing": 104,
          "resolve": {"scale": {"fill": "independent", "color": "independent", "stroke": "independent", "shape": "independent", "size": "independent", "strokeWidth": "independent"}},
          "vconcat": [
            {
              "width": 191, "height": 140,
              "title": {"text": "d", "dx": 18, "offset": -1},
              "data": {"values": [{"time": 0, "g": "Control", "v": 1.0, "e": 0.05}, {"time": 10, "g": "Control", "v": 0.69, "e": 0.05}, {"time": 30, "g": "Control", "v": 0.275, "e": 0.05}, {"time": 60, "g": "Control", "v": 0.125, "e": 0.03}, {"time": 0, "g": "Verapamil", "v": 1.0, "e": 0.06}, {"time": 10, "g": "Verapamil", "v": 0.785, "e": 0.03}, {"time": 30, "g": "Verapamil", "v": 0.785, "e": 0.03}, {"time": 60, "g": "Verapamil", "v": 0.745, "e": 0.02}]},
              "encoding": {"x": {"field": "time", "type": "quantitative", "scale": {"domain": [0, 72]}, "axis": {"values": [0, 20, 40, 60], "tickCount": 10, "title": "time (min)", "titlePadding": 3}}},
              "layer": [
                {"mark": {"type": "line"}, "encoding": {"y": {"field": "v", "type": "quantitative", "scale": {"domain": [0, 1.5]}, "axis": {"values": [0, 0.5, 1, 1.5], "tickCount": 10, "format": ".1f", "title": "DON Content (of 0min)", "titlePadding": 6}}, "color": {"field": "g", "type": "nominal", "scale": {"domain": ["Control", "Verapamil"], "range": ["black", "#8c8c8c"]}, "legend": {"orient": "none", "legendX": 117, "legendY": 18, "title": null, "labelFontSize": 13, "labelFontWeight": "bold", "labelFont": "Liberation Sans", "rowPadding": 4, "labelOffset": 6}}, "strokeWidth": {"field": "g", "type": "nominal", "scale": {"domain": ["Control", "Verapamil"], "range": [2, 1.5]}, "legend": null}}},
                {"mark": {"type": "errorbar", "ticks": {"size": 7, "thickness": 1.5}, "thickness": 1.5}, "encoding": {"y": {"field": "v", "type": "quantitative", "title": "DON Content (of 0min)"}, "yError": {"field": "e"}, "color": {"field": "g", "type": "nominal"}}},
                {"mark": {"type": "point", "filled": true, "opacity": 1}, "encoding": {"y": {"field": "v", "type": "quantitative", "title": "DON Content (of 0min)"}, "color": {"field": "g", "type": "nominal"}, "shape": {"field": "g", "type": "nominal", "scale": {"domain": ["Control", "Verapamil"], "range": ["circle", "triangle-up"]}, "legend": null}, "size": {"field": "g", "type": "nominal", "scale": {"domain": ["Control", "Verapamil"], "range": [45, 15]}, "legend": null}}}
              ]
            },
            {
              "bounds": "flush", "spacing": 12,
              "resolve": {"scale": {"fill": "independent", "color": "independent", "stroke": "independent", "shape": "independent", "size": "independent", "strokeWidth": "independent"}},
              "vconcat": [
                {
                  "width": 214, "height": 61,
                  "title": {"text": "f", "dx": 16, "offset": -2},
                  "data": {"name": "fdata"},
                  "encoding": {"x": {"field": "cat", "type": "nominal", "scale": {"domain": ["Control", "LiCl", "Probencid", "Cimetidine", "Verapamil"], "paddingInner": 0.32, "paddingOuter": 0.18}, "axis": null}},
                  "layer": [
                    {"mark": {"type": "bar", "stroke": "black", "strokeWidth": 2, "clip": true}, "encoding": {"y": {"field": "v", "type": "quantitative", "scale": {"domain": [1.27, 2.5]}, "axis": {"values": [1.5, 2, 2.5], "tickCount": 10, "format": ".1f", "title": null}}, "fill": {"field": "cat", "type": "nominal", "scale": {"domain": ["Control", "LiCl", "Probencid", "Cimetidine", "Verapamil"], "range": ["#7f7f7f", "#8c8c8c", "#b0b0b0", "#b8b8b8", "#c4c4c4"]}, "legend": null}}},
                    {"transform": [{"filter": "datum.cat === 'Verapamil'"}], "mark": {"type": "bar", "stroke": "black", "strokeWidth": 2, "clip": true, "fill": {"gradient": "linear", "x1": 0, "y1": 1, "x2": 0.335, "y2": -0.188, "stops": [{"offset":0,"color":"#fff"},{"offset":0.0325,"color":"#fff"},{"offset":0.0325,"color":"#666"},{"offset":0.05,"color":"#666"},{"offset":0.05,"color":"#fff"},{"offset":0.0825,"color":"#fff"},{"offset":0.0825,"color":"#666"},{"offset":0.1,"color":"#666"},{"offset":0.1,"color":"#fff"},{"offset":0.1325,"color":"#fff"},{"offset":0.1325,"color":"#666"},{"offset":0.15,"color":"#666"},{"offset":0.15,"color":"#fff"},{"offset":0.1825,"color":"#fff"},{"offset":0.1825,"color":"#666"},{"offset":0.2,"color":"#666"},{"offset":0.2,"color":"#fff"},{"offset":0.2325,"color":"#fff"},{"offset":0.2325,"color":"#666"},{"offset":0.25,"color":"#666"},{"offset":0.25,"color":"#fff"},{"offset":0.2825,"color":"#fff"},{"offset":0.2825,"color":"#666"},{"offset":0.3,"color":"#666"},{"offset":0.3,"color":"#fff"},{"offset":0.3325,"color":"#fff"},{"offset":0.3325,"color":"#666"},{"offset":0.35,"color":"#666"},{"offset":0.35,"color":"#fff"},{"offset":0.3825,"color":"#fff"},{"offset":0.3825,"color":"#666"},{"offset":0.4,"color":"#666"},{"offset":0.4,"color":"#fff"},{"offset":0.4325,"color":"#fff"},{"offset":0.4325,"color":"#666"},{"offset":0.45,"color":"#666"},{"offset":0.45,"color":"#fff"},{"offset":0.4825,"color":"#fff"},{"offset":0.4825,"color":"#666"},{"offset":0.5,"color":"#666"},{"offset":0.5,"color":"#fff"},{"offset":0.5325,"color":"#fff"},{"offset":0.5325,"color":"#666"},{"offset":0.55,"color":"#666"},{"offset":0.55,"color":"#fff"},{"offset":0.5825,"color":"#fff"},{"offset":0.5825,"color":"#666"},{"offset":0.6,"color":"#666"},{"offset":0.6,"color":"#fff"},{"offset":0.6325,"color":"#fff"},{"offset":0.6325,"color":"#666"},{"offset":0.65,"color":"#666"},{"offset":0.65,"color":"#fff"},{"offset":0.6825,"color":"#fff"},{"offset":0.6825,"color":"#666"},{"offset":0.7,"color":"#666"},{"offset":0.7,"color":"#fff"},{"offset":0.7325,"color":"#fff"},{"offset":0.7325,"color":"#666"},{"offset":0.75,"color":"#666"},{"offset":0.75,"color":"#fff"},{"offset":0.7825,"color":"#fff"},{"offset":0.7825,"color":"#666"},{"offset":0.8,"color":"#666"},{"offset":0.8,"color":"#fff"},{"offset":0.8325,"color":"#fff"},{"offset":0.8325,"color":"#666"},{"offset":0.85,"color":"#666"},{"offset":0.85,"color":"#fff"},{"offset":0.8825,"color":"#fff"},{"offset":0.8825,"color":"#666"},{"offset":0.9,"color":"#666"},{"offset":0.9,"color":"#fff"},{"offset":0.9325,"color":"#fff"},{"offset":0.9325,"color":"#666"},{"offset":0.95,"color":"#666"},{"offset":0.95,"color":"#fff"},{"offset":0.9825,"color":"#fff"},{"offset":0.9825,"color":"#666"},{"offset":1,"color":"#666"}]}}, "encoding": {"y": {"field": "v", "type": "quantitative"}}},
                    {"mark": {"type": "rule", "strokeWidth": 2, "clip": true}, "encoding": {"y": {"field": "v", "type": "quantitative"}, "y2": {"field": "hi"}}},
                    {"mark": {"type": "tick", "orient": "horizontal", "size": 20, "thickness": 2, "clip": true}, "encoding": {"y": {"field": "hi", "type": "quantitative"}}},
                    {"transform": [{"filter": "datum.hi > 1.27"}], "mark": {"type": "text", "dy": -7, "fontSize": 11, "fontWeight": "bold", "clip": true}, "encoding": {"y": {"field": "hi", "type": "quantitative"}, "text": {"field": "sig"}}}
                  ]
                },
                {
                  "bounds": "flush", "spacing": 123,
                  "resolve": {"scale": {"fill": "independent", "color": "independent", "stroke": "independent", "shape": "independent", "size": "independent", "strokeWidth": "independent"}},
                  "vconcat": [
                    {
                      "width": 214, "height": 82,
                      "data": {"name": "fdata"},
                      "encoding": {"x": {"field": "cat", "type": "nominal", "scale": {"domain": ["Control", "LiCl", "Probencid", "Cimetidine", "Verapamil"], "paddingInner": 0.32, "paddingOuter": 0.18}, "axis": {"title": null, "labelAngle": -45, "labelFontSize": 14}}},
                      "layer": [
                        {"mark": {"type": "bar", "stroke": "black", "strokeWidth": 2, "clip": true}, "encoding": {"y": {"field": "v", "type": "quantitative", "scale": {"domain": [0, 1.25]}, "axis": {"values": [0, 0.5, 1], "tickCount": 10, "format": ".1f", "title": "DON uptake (of control)", "titleY": 3, "titlePadding": 6}}, "fill": {"field": "cat", "type": "nominal", "scale": {"domain": ["Control", "LiCl", "Probencid", "Cimetidine", "Verapamil"], "range": ["#7f7f7f", "#8c8c8c", "#b0b0b0", "#b8b8b8", "#c4c4c4"]}, "legend": null}}},
                        {"transform": [{"filter": "datum.cat === 'LiCl' || datum.cat === 'Cimetidine'"}], "mark": {"type": "bar", "stroke": "black", "strokeWidth": 2, "clip": true, "fill": {"gradient": "linear", "x1": 0, "y1": 0, "x2": 1, "y2": 0, "stops": [{"offset":0,"color":"#fff"},{"offset":0.081,"color":"#fff"},{"offset":0.081,"color":"#333"},{"offset":0.125,"color":"#333"},{"offset":0.125,"color":"#fff"},{"offset":0.206,"color":"#fff"},{"offset":0.206,"color":"#333"},{"offset":0.25,"color":"#333"},{"offset":0.25,"color":"#fff"},{"offset":0.331,"color":"#fff"},{"offset":0.331,"color":"#333"},{"offset":0.375,"color":"#333"},{"offset":0.375,"color":"#fff"},{"offset":0.456,"color":"#fff"},{"offset":0.456,"color":"#333"},{"offset":0.5,"color":"#333"},{"offset":0.5,"color":"#fff"},{"offset":0.581,"color":"#fff"},{"offset":0.581,"color":"#333"},{"offset":0.625,"color":"#333"},{"offset":0.625,"color":"#fff"},{"offset":0.706,"color":"#fff"},{"offset":0.706,"color":"#333"},{"offset":0.75,"color":"#333"},{"offset":0.75,"color":"#fff"},{"offset":0.831,"color":"#fff"},{"offset":0.831,"color":"#333"},{"offset":0.875,"color":"#333"},{"offset":0.875,"color":"#fff"},{"offset":0.956,"color":"#fff"},{"offset":0.956,"color":"#333"},{"offset":1,"color":"#333"}]}}, "encoding": {"y": {"field": "v", "type": "quantitative"}}},
                        {"transform": [{"filter": "datum.cat === 'Probencid'"}], "mark": {"type": "bar", "stroke": "black", "strokeWidth": 2, "clip": true, "fill": {"gradient": "linear", "x1": 0, "y1": 0, "x2": 0, "y2": 1, "stops": [{"offset":0,"color":"#fff"},{"offset":0.054,"color":"#fff"},{"offset":0.054,"color":"#333"},{"offset":0.083,"color":"#333"},{"offset":0.083,"color":"#fff"},{"offset":0.138,"color":"#fff"},{"offset":0.138,"color":"#333"},{"offset":0.167,"color":"#333"},{"offset":0.167,"color":"#fff"},{"offset":0.221,"color":"#fff"},{"offset":0.221,"color":"#333"},{"offset":0.25,"color":"#333"},{"offset":0.25,"color":"#fff"},{"offset":0.304,"color":"#fff"},{"offset":0.304,"color":"#333"},{"offset":0.333,"color":"#333"},{"offset":0.333,"color":"#fff"},{"offset":0.388,"color":"#fff"},{"offset":0.388,"color":"#333"},{"offset":0.417,"color":"#333"},{"offset":0.417,"color":"#fff"},{"offset":0.471,"color":"#fff"},{"offset":0.471,"color":"#333"},{"offset":0.5,"color":"#333"},{"offset":0.5,"color":"#fff"},{"offset":0.554,"color":"#fff"},{"offset":0.554,"color":"#333"},{"offset":0.583,"color":"#333"},{"offset":0.583,"color":"#fff"},{"offset":0.638,"color":"#fff"},{"offset":0.638,"color":"#333"},{"offset":0.667,"color":"#333"},{"offset":0.667,"color":"#fff"},{"offset":0.721,"color":"#fff"},{"offset":0.721,"color":"#333"},{"offset":0.75,"color":"#333"},{"offset":0.75,"color":"#fff"},{"offset":0.804,"color":"#fff"},{"offset":0.804,"color":"#333"},{"offset":0.833,"color":"#333"},{"offset":0.833,"color":"#fff"},{"offset":0.888,"color":"#fff"},{"offset":0.888,"color":"#333"},{"offset":0.917,"color":"#333"},{"offset":0.917,"color":"#fff"},{"offset":0.971,"color":"#fff"},{"offset":0.971,"color":"#333"},{"offset":1,"color":"#333"}]}}, "encoding": {"y": {"field": "v", "type": "quantitative"}}},
                        {"transform": [{"filter": "datum.cat === 'LiCl'"}], "mark": {"type": "bar", "stroke": "black", "strokeWidth": 2, "clip": true, "fill": {"gradient": "linear", "x1": 0, "y1": 0, "x2": 0, "y2": 1, "stops": [{"offset":0,"color":"rgba(0,0,0,0)"},{"offset":0.054,"color":"rgba(0,0,0,0)"},{"offset":0.054,"color":"#333"},{"offset":0.083,"color":"#333"},{"offset":0.083,"color":"rgba(0,0,0,0)"},{"offset":0.138,"color":"rgba(0,0,0,0)"},{"offset":0.138,"color":"#333"},{"offset":0.167,"color":"#333"},{"offset":0.167,"color":"rgba(0,0,0,0)"},{"offset":0.221,"color":"rgba(0,0,0,0)"},{"offset":0.221,"color":"#333"},{"offset":0.25,"color":"#333"},{"offset":0.25,"color":"rgba(0,0,0,0)"},{"offset":0.304,"color":"rgba(0,0,0,0)"},{"offset":0.304,"color":"#333"},{"offset":0.333,"color":"#333"},{"offset":0.333,"color":"rgba(0,0,0,0)"},{"offset":0.388,"color":"rgba(0,0,0,0)"},{"offset":0.388,"color":"#333"},{"offset":0.417,"color":"#333"},{"offset":0.417,"color":"rgba(0,0,0,0)"},{"offset":0.471,"color":"rgba(0,0,0,0)"},{"offset":0.471,"color":"#333"},{"offset":0.5,"color":"#333"},{"offset":0.5,"color":"rgba(0,0,0,0)"},{"offset":0.554,"color":"rgba(0,0,0,0)"},{"offset":0.554,"color":"#333"},{"offset":0.583,"color":"#333"},{"offset":0.583,"color":"rgba(0,0,0,0)"},{"offset":0.638,"color":"rgba(0,0,0,0)"},{"offset":0.638,"color":"#333"},{"offset":0.667,"color":"#333"},{"offset":0.667,"color":"rgba(0,0,0,0)"},{"offset":0.721,"color":"rgba(0,0,0,0)"},{"offset":0.721,"color":"#333"},{"offset":0.75,"color":"#333"},{"offset":0.75,"color":"rgba(0,0,0,0)"},{"offset":0.804,"color":"rgba(0,0,0,0)"},{"offset":0.804,"color":"#333"},{"offset":0.833,"color":"#333"},{"offset":0.833,"color":"rgba(0,0,0,0)"},{"offset":0.888,"color":"rgba(0,0,0,0)"},{"offset":0.888,"color":"#333"},{"offset":0.917,"color":"#333"},{"offset":0.917,"color":"rgba(0,0,0,0)"},{"offset":0.971,"color":"rgba(0,0,0,0)"},{"offset":0.971,"color":"#333"},{"offset":1,"color":"#333"}]}}, "encoding": {"y": {"field": "v", "type": "quantitative"}}},
                        {"transform": [{"filter": "datum.cat === 'Verapamil'"}], "mark": {"type": "bar", "stroke": "black", "strokeWidth": 2, "clip": true, "fill": {"gradient": "linear", "x1": 0, "y1": 1, "x2": 0.248, "y2": -0.161, "stops": [{"offset":0,"color":"#fff"},{"offset":0.0325,"color":"#fff"},{"offset":0.0325,"color":"#666"},{"offset":0.05,"color":"#666"},{"offset":0.05,"color":"#fff"},{"offset":0.0825,"color":"#fff"},{"offset":0.0825,"color":"#666"},{"offset":0.1,"color":"#666"},{"offset":0.1,"color":"#fff"},{"offset":0.1325,"color":"#fff"},{"offset":0.1325,"color":"#666"},{"offset":0.15,"color":"#666"},{"offset":0.15,"color":"#fff"},{"offset":0.1825,"color":"#fff"},{"offset":0.1825,"color":"#666"},{"offset":0.2,"color":"#666"},{"offset":0.2,"color":"#fff"},{"offset":0.2325,"color":"#fff"},{"offset":0.2325,"color":"#666"},{"offset":0.25,"color":"#666"},{"offset":0.25,"color":"#fff"},{"offset":0.2825,"color":"#fff"},{"offset":0.2825,"color":"#666"},{"offset":0.3,"color":"#666"},{"offset":0.3,"color":"#fff"},{"offset":0.3325,"color":"#fff"},{"offset":0.3325,"color":"#666"},{"offset":0.35,"color":"#666"},{"offset":0.35,"color":"#fff"},{"offset":0.3825,"color":"#fff"},{"offset":0.3825,"color":"#666"},{"offset":0.4,"color":"#666"},{"offset":0.4,"color":"#fff"},{"offset":0.4325,"color":"#fff"},{"offset":0.4325,"color":"#666"},{"offset":0.45,"color":"#666"},{"offset":0.45,"color":"#fff"},{"offset":0.4825,"color":"#fff"},{"offset":0.4825,"color":"#666"},{"offset":0.5,"color":"#666"},{"offset":0.5,"color":"#fff"},{"offset":0.5325,"color":"#fff"},{"offset":0.5325,"color":"#666"},{"offset":0.55,"color":"#666"},{"offset":0.55,"color":"#fff"},{"offset":0.5825,"color":"#fff"},{"offset":0.5825,"color":"#666"},{"offset":0.6,"color":"#666"},{"offset":0.6,"color":"#fff"},{"offset":0.6325,"color":"#fff"},{"offset":0.6325,"color":"#666"},{"offset":0.65,"color":"#666"},{"offset":0.65,"color":"#fff"},{"offset":0.6825,"color":"#fff"},{"offset":0.6825,"color":"#666"},{"offset":0.7,"color":"#666"},{"offset":0.7,"color":"#fff"},{"offset":0.7325,"color":"#fff"},{"offset":0.7325,"color":"#666"},{"offset":0.75,"color":"#666"},{"offset":0.75,"color":"#fff"},{"offset":0.7825,"color":"#fff"},{"offset":0.7825,"color":"#666"},{"offset":0.8,"color":"#666"},{"offset":0.8,"color":"#fff"},{"offset":0.8325,"color":"#fff"},{"offset":0.8325,"color":"#666"},{"offset":0.85,"color":"#666"},{"offset":0.85,"color":"#fff"},{"offset":0.8825,"color":"#fff"},{"offset":0.8825,"color":"#666"},{"offset":0.9,"color":"#666"},{"offset":0.9,"color":"#fff"},{"offset":0.9325,"color":"#fff"},{"offset":0.9325,"color":"#666"},{"offset":0.95,"color":"#666"},{"offset":0.95,"color":"#fff"},{"offset":0.9825,"color":"#fff"},{"offset":0.9825,"color":"#666"},{"offset":1,"color":"#666"}]}}, "encoding": {"y": {"field": "v", "type": "quantitative"}}},
                        {"mark": {"type": "rule", "strokeWidth": 2, "clip": true}, "encoding": {"y": {"field": "v", "type": "quantitative"}, "y2": {"field": "hi"}}},
                        {"mark": {"type": "tick", "orient": "horizontal", "size": 20, "thickness": 2, "clip": true}, "encoding": {"y": {"field": "hi", "type": "quantitative"}}},
                        {"transform": [{"filter": "datum.hi < 1.25"}], "mark": {"type": "text", "dy": -7, "fontSize": 11, "fontWeight": "bold", "clip": true}, "encoding": {"y": {"field": "hi", "type": "quantitative"}, "text": {"field": "sig"}}}
                      ]
                    },
                    {
                      "width": 197, "height": 132,
                      "title": {"text": "h", "dx": 16, "offset": 10},
                      "layer": [
                        {"data": {"name": "hbars"}, "mark": {"type": "bar", "stroke": "black", "strokeWidth": 2}, "encoding": {"y": {"field": "cat", "type": "nominal", "scale": {"domain": ["Verapamil+Cimetidine", "Verapamil+NaN₃", "Verapamil+ZnSO₄", "Verapamil+quinidine", "Verapamil+Levoflaxacin", "Verapmil+rifampicin", "Verapamil", "control"], "paddingInner": 0.33, "paddingOuter": 0.16}, "axis": {"title": null, "labelFontSize": 12, "labelPadding": 8}}, "x": {"field": "v", "type": "quantitative", "scale": {"domain": [0, 2]}, "axis": {"values": [0, 0.5, 1, 1.5, 2], "tickCount": 10, "format": ".1f", "labelAngle": -45, "title": "DON uptake (of control)", "titlePadding": 8}}, "fill": {"field": "cat", "type": "nominal", "scale": {"domain": ["Verapamil+Cimetidine", "Verapamil+NaN₃", "Verapamil+ZnSO₄", "Verapamil+quinidine", "Verapamil+Levoflaxacin", "Verapmil+rifampicin", "Verapamil", "control"], "range": ["#c4c4c4", "#7a7a7a", "#c8c8c8", "#c8c8c8", "#a8a8a8", "#d0d0d0", "#888888", "#808080"]}, "legend": null}}},
                        {"data": {"name": "hbars"}, "transform": [{"filter": "datum.cat === 'Verapamil+Levoflaxacin'"}], "mark": {"type": "bar", "stroke": "black", "strokeWidth": 2, "fill": {"gradient": "linear", "x1": 0, "y1": 0, "x2": 1, "y2": 0, "stops": [{"offset":0,"color":"#fff"},{"offset":0.0325,"color":"#fff"},{"offset":0.0325,"color":"#333"},{"offset":0.05,"color":"#333"},{"offset":0.05,"color":"#fff"},{"offset":0.0825,"color":"#fff"},{"offset":0.0825,"color":"#333"},{"offset":0.1,"color":"#333"},{"offset":0.1,"color":"#fff"},{"offset":0.1325,"color":"#fff"},{"offset":0.1325,"color":"#333"},{"offset":0.15,"color":"#333"},{"offset":0.15,"color":"#fff"},{"offset":0.1825,"color":"#fff"},{"offset":0.1825,"color":"#333"},{"offset":0.2,"color":"#333"},{"offset":0.2,"color":"#fff"},{"offset":0.2325,"color":"#fff"},{"offset":0.2325,"color":"#333"},{"offset":0.25,"color":"#333"},{"offset":0.25,"color":"#fff"},{"offset":0.2825,"color":"#fff"},{"offset":0.2825,"color":"#333"},{"offset":0.3,"color":"#333"},{"offset":0.3,"color":"#fff"},{"offset":0.3325,"color":"#fff"},{"offset":0.3325,"color":"#333"},{"offset":0.35,"color":"#333"},{"offset":0.35,"color":"#fff"},{"offset":0.3825,"color":"#fff"},{"offset":0.3825,"color":"#333"},{"offset":0.4,"color":"#333"},{"offset":0.4,"color":"#fff"},{"offset":0.4325,"color":"#fff"},{"offset":0.4325,"color":"#333"},{"offset":0.45,"color":"#333"},{"offset":0.45,"color":"#fff"},{"offset":0.4825,"color":"#fff"},{"offset":0.4825,"color":"#333"},{"offset":0.5,"color":"#333"},{"offset":0.5,"color":"#fff"},{"offset":0.5325,"color":"#fff"},{"offset":0.5325,"color":"#333"},{"offset":0.55,"color":"#333"},{"offset":0.55,"color":"#fff"},{"offset":0.5825,"color":"#fff"},{"offset":0.5825,"color":"#333"},{"offset":0.6,"color":"#333"},{"offset":0.6,"color":"#fff"},{"offset":0.6325,"color":"#fff"},{"offset":0.6325,"color":"#333"},{"offset":0.65,"color":"#333"},{"offset":0.65,"color":"#fff"},{"offset":0.6825,"color":"#fff"},{"offset":0.6825,"color":"#333"},{"offset":0.7,"color":"#333"},{"offset":0.7,"color":"#fff"},{"offset":0.7325,"color":"#fff"},{"offset":0.7325,"color":"#333"},{"offset":0.75,"color":"#333"},{"offset":0.75,"color":"#fff"},{"offset":0.7825,"color":"#fff"},{"offset":0.7825,"color":"#333"},{"offset":0.8,"color":"#333"},{"offset":0.8,"color":"#fff"},{"offset":0.8325,"color":"#fff"},{"offset":0.8325,"color":"#333"},{"offset":0.85,"color":"#333"},{"offset":0.85,"color":"#fff"},{"offset":0.8825,"color":"#fff"},{"offset":0.8825,"color":"#333"},{"offset":0.9,"color":"#333"},{"offset":0.9,"color":"#fff"},{"offset":0.9325,"color":"#fff"},{"offset":0.9325,"color":"#333"},{"offset":0.95,"color":"#333"},{"offset":0.95,"color":"#fff"},{"offset":0.9825,"color":"#fff"},{"offset":0.9825,"color":"#333"},{"offset":1,"color":"#333"}]}}, "encoding": {"y": {"field": "cat", "type": "nominal"}, "x": {"field": "v", "type": "quantitative"}}},
                        {"data": {"name": "hbars"}, "transform": [{"filter": "datum.cat === 'Verapmil+rifampicin'"}], "mark": {"type": "bar", "stroke": "black", "strokeWidth": 2, "fill": {"gradient": "linear", "x1": 0, "y1": 0, "x2": 0, "y2": 1, "stops": [{"offset":0,"color":"#fff"},{"offset":0.217,"color":"#fff"},{"offset":0.217,"color":"#333"},{"offset":0.333,"color":"#333"},{"offset":0.333,"color":"#fff"},{"offset":0.55,"color":"#fff"},{"offset":0.55,"color":"#333"},{"offset":0.667,"color":"#333"},{"offset":0.667,"color":"#fff"},{"offset":0.883,"color":"#fff"},{"offset":0.883,"color":"#333"},{"offset":1,"color":"#333"}]}}, "encoding": {"y": {"field": "cat", "type": "nominal"}, "x": {"field": "v", "type": "quantitative"}}},
                        {"data": {"name": "hbars"}, "mark": {"type": "rule", "strokeWidth": 2}, "encoding": {"y": {"field": "cat", "type": "nominal"}, "x": {"field": "v", "type": "quantitative"}, "x2": {"field": "hi"}}},
                        {"data": {"name": "hbars"}, "mark": {"type": "tick", "orient": "vertical", "size": 8, "thickness": 2}, "encoding": {"y": {"field": "cat", "type": "nominal"}, "x": {"field": "hi", "type": "quantitative"}}},
                        {"data": {"name": "hseg"}, "mark": {"type": "rule", "strokeWidth": 1}, "encoding": {"y": {"field": "cat", "type": "nominal"}, "x": {"field": "x1", "type": "quantitative"}, "x2": {"field": "x2"}, "stroke": {"field": "ref", "type": "nominal", "scale": {"domain": ["Verapamil", "control"], "range": ["#9a9a9a", "black"]}, "legend": null}}},
                        {"data": {"name": "vseg"}, "mark": {"type": "rule", "strokeWidth": 1}, "encoding": {"x": {"field": "x", "type": "quantitative"}, "y": {"field": "r1", "type": "nominal"}, "y2": {"field": "r2"}, "stroke": {"field": "ref", "type": "nominal"}}},
                        {"data": {"name": "hstars"}, "mark": {"type": "text", "align": "right", "baseline": "middle", "dx": -2, "fontSize": 11, "fontWeight": "bold"}, "encoding": {"x": {"field": "x", "type": "quantitative"}, "y": {"field": "cat", "type": "nominal", "bandPosition": 0}, "text": {"field": "s"}}}
                      ]
                    }
                  ]
                }
              ]
            }
          ]
        }
      ]
    }
  ],
  "datasets": {
    "gbars": [{"time": "30", "temp": "4℃", "v": 0.18, "hi": 0.22}, {"time": "30", "temp": "37℃", "v": 1.0, "hi": 1.05}, {"time": "60", "temp": "4℃", "v": 0.32, "hi": 0.33}, {"time": "60", "temp": "37℃", "v": 1.38, "hi": 1.53}, {"time": "120", "temp": "4℃", "v": 0.23, "hi": 0.24}, {"time": "120", "temp": "37℃", "v": 0.97, "hi": 1.01}],
    "glegs": [{"time": "30", "temp": "4℃", "lo": 0.3, "top": 1.29}, {"time": "30", "temp": "37℃", "lo": 1.06, "top": 1.29}, {"time": "60", "temp": "4℃", "lo": 0.38, "top": 1.675}, {"time": "60", "temp": "37℃", "lo": 1.54, "top": 1.675}, {"time": "120", "temp": "4℃", "lo": 0.27, "top": 1.16}, {"time": "120", "temp": "37℃", "lo": 1.015, "top": 1.16}],
    "gstars": [{"time": "30", "top": 1.29, "sig": "***"}, {"time": "60", "top": 1.675, "sig": "***"}, {"time": "120", "top": 1.16, "sig": "***"}],
    "fdata": [{"cat": "Control", "v": 1.0, "hi": 1.015, "sig": ""}, {"cat": "LiCl", "v": 0.915, "hi": 0.94, "sig": ""}, {"cat": "Probencid", "v": 0.915, "hi": 0.96, "sig": ""}, {"cat": "Cimetidine", "v": 0.72, "hi": 0.745, "sig": "*"}, {"cat": "Verapamil", "v": 2.07, "hi": 2.2, "sig": "***"}],
    "hbars": [{"cat": "Verapamil+Cimetidine", "v": 1.29, "hi": 1.325}, {"cat": "Verapamil+NaN₃", "v": 1.76, "hi": 1.83}, {"cat": "Verapamil+ZnSO₄", "v": 1.695, "hi": 1.71}, {"cat": "Verapamil+quinidine", "v": 1.085, "hi": 1.14}, {"cat": "Verapamil+Levoflaxacin", "v": 1.39, "hi": 1.47}, {"cat": "Verapmil+rifampicin", "v": 0.95, "hi": 1.0}, {"cat": "Verapamil", "v": 1.78, "hi": 1.85}, {"cat": "control", "v": 1.015, "hi": 1.12}],
    "hseg": [{"cat": "Verapamil+Cimetidine", "x1": 1.33, "x2": 2.47, "ref": "Verapamil"}, {"cat": "Verapamil+quinidine", "x1": 1.14, "x2": 2.295, "ref": "Verapamil"}, {"cat": "Verapamil+Levoflaxacin", "x1": 1.47, "x2": 2.12, "ref": "Verapamil"}, {"cat": "Verapmil+rifampicin", "x1": 1.0, "x2": 2.035, "ref": "Verapamil"}, {"cat": "Verapamil", "x1": 1.9, "x2": 2.47, "ref": "Verapamil"}, {"cat": "Verapamil", "x1": 1.85, "x2": 1.9, "ref": "control"}, {"cat": "control", "x1": 1.12, "x2": 1.9, "ref": "control"}],
    "vseg": [{"x": 2.47, "r1": "Verapamil+Cimetidine", "r2": "Verapamil", "ref": "Verapamil"}, {"x": 2.295, "r1": "Verapamil+quinidine", "r2": "Verapamil", "ref": "Verapamil"}, {"x": 2.12, "r1": "Verapamil+Levoflaxacin", "r2": "Verapamil", "ref": "Verapamil"}, {"x": 2.035, "r1": "Verapmil+rifampicin", "r2": "Verapamil", "ref": "Verapamil"}, {"x": 1.9, "r1": "Verapamil", "r2": "control", "ref": "control"}],
    "hstars": [{"x": 2.47, "cat": "Verapamil+ZnSO₄", "s": "***"}, {"x": 2.295, "cat": "Verapmil+rifampicin", "s": "***"}, {"x": 2.12, "cat": "Verapmil+rifampicin", "s": "**"}, {"x": 2.035, "cat": "Verapamil", "s": "***"}, {"x": 1.9, "cat": "control", "s": "***"}]
  }
}
